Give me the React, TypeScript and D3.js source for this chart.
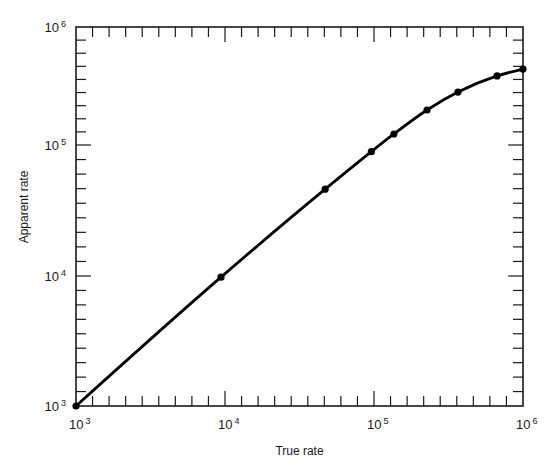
import * as d3 from 'd3'

const trueRate = [1e3, 9.4e3, 4.7e4, 9.6e4, 1.36e5, 2.27e5, 3.66e5, 6.7e5, 1e6]
const apparentRate = [1e3, 9.8e3, 4.6e4, 8.9e4, 1.24e5, 1.98e5, 2.81e5, 3.85e5, 4.4e5]

const decades = [3, 4, 5, 6]
const minorSteps = [1, 2, 3, 4, 5, 6, 7, 8]

const left = 76
const right = 523
const top = 27
const bottom = 406

export default function App() {
  const x = d3.scaleLog().domain([1e3, 1e6]).range([left, right])
  // the original figure's top decade is a little shorter than the others
  const y = d3.scaleLog().domain([1e3, 1e4, 1e5, 1e6]).range([bottom, 276, 145, top])

  const minor: number[] = []
  decades.slice(0, -1).forEach((d) => {
    minorSteps.forEach((j) => minor.push(Math.pow(10, d + j / 9)))
  })

  const line = d3
    .line<number>()
    .x((d, i) => x(trueRate[i]))
    .y((d) => y(d))
    .curve(d3.curveMonotoneX)

  const ink = '#1a1a1a'
  const font = 'Liberation Sans, Arial, sans-serif'
  const majorLen = 15
  const minorLen = 10

  return (
    <svg
      width={555}
      height={466}
      style={{ position: 'absolute', left: 0, top: 0, background: '#fff' }}
      fontFamily={font}
    >
      <rect
        x={left}
        y={top}
        width={right - left}
        height={bottom - top}
        fill="none"
        stroke={ink}
        strokeWidth={1.6}
      />

      {/* x ticks, bottom and top, pointing inward */}
      {minor.map((v) => (
        <g key={'xm' + v} stroke={ink} strokeWidth={1.2}>
          <line x1={x(v)} x2={x(v)} y1={bottom} y2={bottom - minorLen} />
          <line x1={x(v)} x2={x(v)} y1={top} y2={top + minorLen} />
        </g>
      ))}
      {decades.slice(1, -1).map((d) => (
        <g key={'xM' + d} stroke={ink} strokeWidth={1.2}>
          <line x1={x(10 ** d)} x2={x(10 ** d)} y1={bottom} y2={bottom - majorLen} />
          <line x1={x(10 ** d)} x2={x(10 ** d)} y1={top} y2={top + majorLen} />
        </g>
      ))}

      {/* y ticks, left and right */}
      {minor.map((v) => (
        <g key={'ym' + v} stroke={ink} strokeWidth={1.2}>
          <line x1={left} x2={left + minorLen} y1={y(v)} y2={y(v)} />
          <line x1={right} x2={right - minorLen} y1={y(v)} y2={y(v)} />
        </g>
      ))}
      {decades.slice(1, -1).map((d) => (
        <g key={'yM' + d} stroke={ink} strokeWidth={1.2}>
          <line x1={left} x2={left + majorLen} y1={y(10 ** d)} y2={y(10 ** d)} />
          <line x1={right} x2={right - majorLen} y1={y(10 ** d)} y2={y(10 ** d)} />
        </g>
      ))}

      {/* tick labels */}
      {decades.map((d) => (
        <text
          key={'xl' + d}
          x={x(10 ** d) - 7}
          y={bottom + 23}
          fontSize={13}
          fill={ink}
        >
          10
          <tspan dx={2} dy={-5} fontSize={9}>
            {d}
          </tspan>
        </text>
      ))}
      {decades.map((d) => (
        <text
          key={'yl' + d}
          x={left - 10}
          y={y(10 ** d) + 5}
          fontSize={13}
          fill={ink}
          textAnchor="end"
        >
          10
          <tspan dx={2} dy={-5} fontSize={9}>
            {d}
          </tspan>
        </text>
      ))}

      <text x={(left + right) / 2} y={455} fontSize={12} fill={ink} textAnchor="middle">
        True rate
      </text>
      <text
        transform={`translate(28,207) rotate(-90)`}
        fontSize={12}
        fill={ink}
        textAnchor="middle"
      >
        Apparent rate
      </text>

      <path d={line(apparentRate) ?? ''} fill="none" stroke="#000" strokeWidth={2.8} />
      {apparentRate.map((v, i) => (
        <circle key={'p' + i} cx={x(trueRate[i])} cy={y(v)} r={3.6} fill="#000" />
      ))}
    </svg>
  )
}
